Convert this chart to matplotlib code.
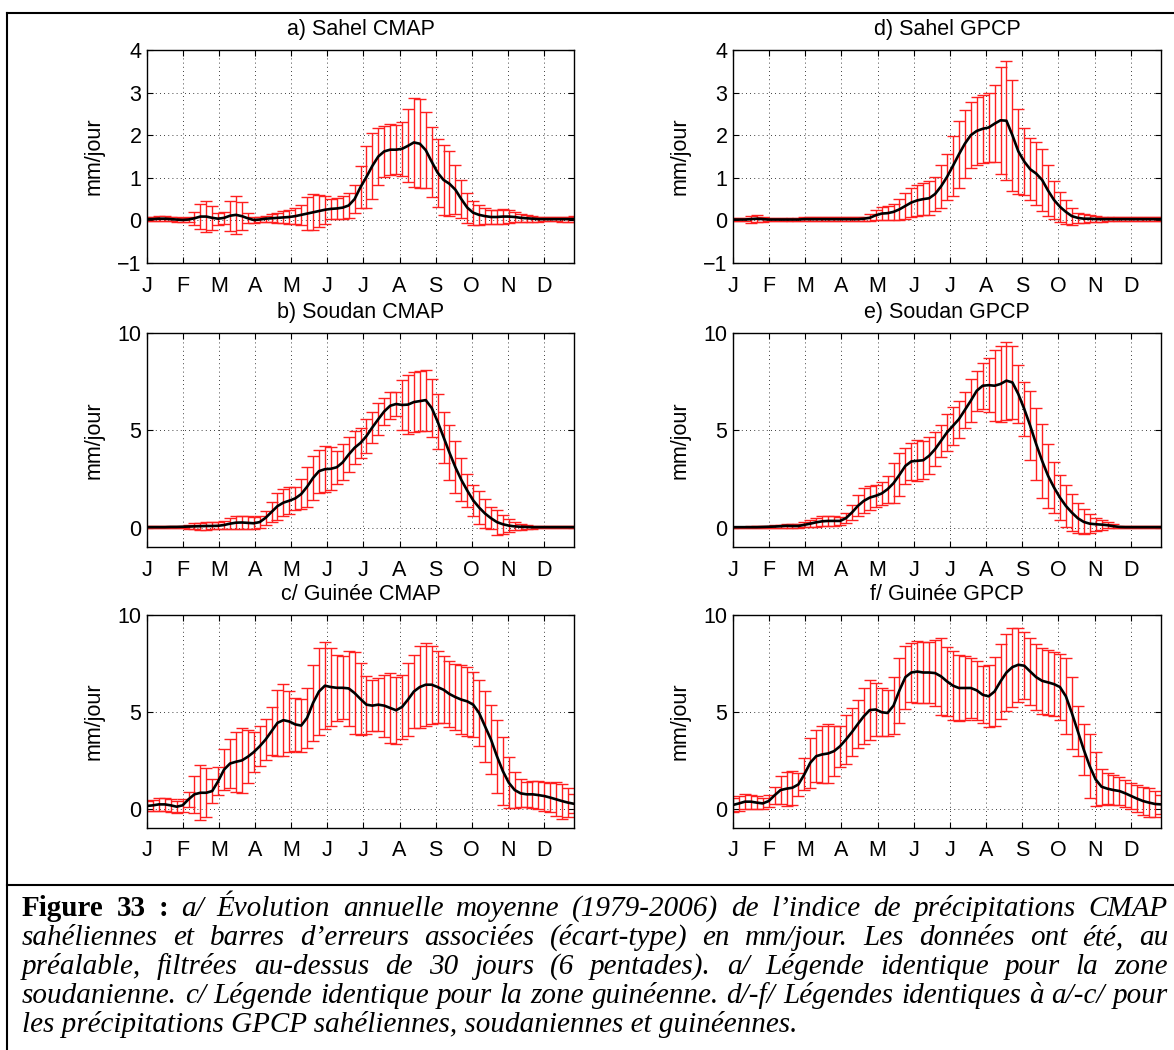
import numpy as np
import matplotlib
matplotlib.use('Agg')
import matplotlib.pyplot as plt
from matplotlib.lines import Line2D

W, H = 1174, 1050
plt.rcParams['font.family'] = 'Liberation Sans'

pentads = np.arange(1, 74)
month_labels = ['J', 'F', 'M', 'A', 'M', 'J', 'J', 'A', 'S', 'O', 'N', 'D']
month_ticks = 1 + np.arange(12) * 73 / 12

titles = ['a) Sahel CMAP', 'b) Soudan CMAP', 'c/ Guinée CMAP',
          'd) Sahel GPCP', 'e) Soudan GPCP', 'f/ Guinée GPCP']

# Sahel CMAP
mean_a = [0.03, 0.03, 0.04, 0.04, 0.03, 0.02, 0.01, 0.02, 0.05, 0.09,
          0.09, 0.06, 0.04, 0.06, 0.11, 0.13, 0.10, 0.05, 0.01, 0.02,
          0.04, 0.05, 0.06, 0.07, 0.08, 0.10, 0.13, 0.16, 0.19, 0.22,
          0.25, 0.27, 0.28, 0.30, 0.35, 0.50, 0.78, 1.02, 1.28, 1.50,
          1.62, 1.66, 1.66, 1.68, 1.75, 1.83, 1.80, 1.65, 1.38, 1.12,
          0.95, 0.86, 0.72, 0.50, 0.30, 0.18, 0.13, 0.10, 0.08, 0.08,
          0.09, 0.09, 0.08, 0.06, 0.05, 0.04, 0.03, 0.03, 0.03, 0.03,
          0.03, 0.03, 0.03]
sd_a = [0.05, 0.05, 0.06, 0.06, 0.05, 0.05, 0.04, 0.05, 0.15, 0.30,
        0.36, 0.28, 0.14, 0.14, 0.35, 0.45, 0.33, 0.12, 0.07, 0.06,
        0.07, 0.09, 0.12, 0.14, 0.16, 0.18, 0.24, 0.38, 0.42, 0.38,
        0.33, 0.24, 0.25, 0.27, 0.30, 0.32, 0.50, 0.72, 0.77, 0.68,
        0.60, 0.60, 0.58, 0.64, 0.86, 1.04, 1.04, 0.90, 0.82, 0.80,
        0.82, 0.76, 0.57, 0.45, 0.35, 0.28, 0.24, 0.18, 0.16, 0.16,
        0.18, 0.15, 0.12, 0.10, 0.08, 0.07, 0.06, 0.05, 0.05, 0.05,
        0.06, 0.06, 0.07]

# Soudan CMAP
mean_b = [0.02, 0.02, 0.02, 0.02, 0.03, 0.03, 0.04, 0.05, 0.06, 0.07,
          0.08, 0.08, 0.09, 0.13, 0.20, 0.25, 0.26, 0.24, 0.22, 0.28,
          0.50, 0.80, 1.10, 1.28, 1.38, 1.50, 1.72, 2.10, 2.55, 2.90,
          3.00, 3.02, 3.10, 3.35, 3.75, 4.10, 4.35, 4.70, 5.15, 5.57,
          5.97, 6.26, 6.35, 6.30, 6.32, 6.45, 6.50, 6.55, 6.15, 5.45,
          4.65, 3.85, 3.10, 2.45, 1.90, 1.40, 1.03, 0.72, 0.48, 0.28,
          0.17, 0.10, 0.06, 0.04, 0.03, 0.02, 0.02, 0.02, 0.02, 0.02,
          0.02, 0.02, 0.02]
sd_b = [0.05, 0.05, 0.06, 0.06, 0.05, 0.05, 0.06, 0.10, 0.15, 0.18,
        0.20, 0.18, 0.17, 0.20, 0.28, 0.33, 0.35, 0.33, 0.30, 0.30,
        0.35, 0.51, 0.70, 0.69, 0.69, 0.60, 0.75, 1.03, 1.11, 1.11,
        1.17, 1.10, 0.86, 0.93, 0.90, 0.85, 0.79, 0.87, 0.81, 0.81,
        0.70, 0.69, 0.64, 1.29, 1.53, 1.52, 1.54, 1.57, 1.50, 1.39,
        1.31, 1.40, 1.35, 1.10, 0.86, 0.81, 0.86, 0.75, 0.56, 0.64,
        0.50, 0.33, 0.21, 0.15, 0.10, 0.08, 0.06, 0.05, 0.05, 0.05,
        0.05, 0.05, 0.06]

# Guinee CMAP
mean_c = [0.14, 0.17, 0.22, 0.22, 0.17, 0.10, 0.17, 0.48, 0.74, 0.82,
          0.82, 0.91, 1.42, 2.02, 2.33, 2.42, 2.49, 2.68, 2.92, 3.22,
          3.57, 4.00, 4.43, 4.57, 4.50, 4.35, 4.29, 4.69, 5.46, 6.05,
          6.35, 6.28, 6.24, 6.24, 6.21, 5.97, 5.66, 5.37, 5.32, 5.37,
          5.32, 5.20, 5.08, 5.25, 5.63, 6.05, 6.28, 6.40, 6.40, 6.28,
          6.14, 5.92, 5.76, 5.63, 5.54, 5.37, 4.94, 4.25, 3.57, 2.71,
          1.94, 1.34, 0.96, 0.79, 0.74, 0.74, 0.70, 0.65, 0.57, 0.48,
          0.39, 0.31, 0.25]
sd_c = [0.26, 0.30, 0.34, 0.32, 0.32, 0.30, 0.32, 0.39, 0.96, 1.42,
        1.26, 0.60, 0.71, 1.06, 1.26, 1.54, 1.66, 1.37, 1.05, 1.03,
        1.06, 1.23, 1.69, 1.87, 1.59, 1.38, 1.39, 1.56, 1.95, 2.25,
        2.26, 2.00, 1.71, 1.63, 1.93, 2.11, 1.86, 1.50, 1.33, 1.36,
        1.60, 1.82, 1.72, 1.66, 1.90, 1.91, 2.13, 2.14, 2.02, 1.86,
        1.72, 1.71, 1.70, 1.78, 1.78, 1.67, 1.69, 1.85, 1.78, 1.89,
        1.76, 1.33, 0.93, 0.72, 0.63, 0.69, 0.73, 0.75, 0.76, 0.87,
        0.90, 0.75, 0.50]

# Sahel GPCP
mean_d = [0.02, 0.02, 0.02, 0.03, 0.04, 0.03, 0.02, 0.02, 0.02, 0.02,
          0.02, 0.02, 0.03, 0.03, 0.03, 0.03, 0.03, 0.03, 0.03, 0.03,
          0.03, 0.03, 0.04, 0.06, 0.12, 0.16, 0.17, 0.20, 0.26, 0.34,
          0.42, 0.47, 0.50, 0.52, 0.62, 0.80, 1.02, 1.28, 1.55, 1.80,
          2.00, 2.10, 2.15, 2.18, 2.27, 2.35, 2.34, 2.00, 1.62, 1.38,
          1.20, 1.10, 0.95, 0.70, 0.48, 0.32, 0.20, 0.10, 0.06, 0.04,
          0.04, 0.03, 0.03, 0.03, 0.03, 0.03, 0.03, 0.03, 0.03, 0.03,
          0.03, 0.03, 0.03]
sd_d = [0.04, 0.04, 0.04, 0.08, 0.08, 0.06, 0.03, 0.03, 0.03, 0.03,
        0.03, 0.03, 0.04, 0.04, 0.04, 0.04, 0.04, 0.04, 0.04, 0.04,
        0.04, 0.04, 0.05, 0.08, 0.12, 0.16, 0.16, 0.18, 0.25, 0.30,
        0.35, 0.37, 0.37, 0.40, 0.40, 0.50, 0.55, 0.70, 0.78, 0.80,
        0.77, 0.80, 0.80, 0.82, 0.90, 1.25, 1.40, 1.30, 1.00, 0.78,
        0.73, 0.75, 0.72, 0.60, 0.45, 0.35, 0.28, 0.20, 0.12, 0.10,
        0.08, 0.07, 0.06, 0.05, 0.04, 0.04, 0.04, 0.04, 0.05, 0.05,
        0.05, 0.04, 0.04]

# Soudan GPCP
mean_e = [0.02, 0.02, 0.02, 0.02, 0.02, 0.03, 0.04, 0.05, 0.07, 0.09,
          0.08, 0.08, 0.14, 0.20, 0.27, 0.32, 0.34, 0.34, 0.34, 0.48,
          0.77, 1.11, 1.37, 1.54, 1.63, 1.75, 1.97, 2.28, 2.71, 3.17,
          3.40, 3.43, 3.46, 3.69, 4.03, 4.46, 4.89, 5.23, 5.57, 6.04,
          6.52, 7.03, 7.29, 7.32, 7.29, 7.38, 7.55, 7.46, 6.86, 6.09,
          5.23, 4.29, 3.43, 2.66, 2.06, 1.54, 1.11, 0.77, 0.48, 0.29,
          0.20, 0.17, 0.15, 0.12, 0.07, 0.03, 0.02, 0.02, 0.02, 0.02,
          0.02, 0.02, 0.02]
sd_e = [0.03, 0.03, 0.03, 0.04, 0.04, 0.04, 0.05, 0.06, 0.08, 0.10,
        0.10, 0.10, 0.12, 0.18, 0.22, 0.25, 0.25, 0.25, 0.22, 0.27,
        0.39, 0.54, 0.64, 0.62, 0.57, 0.57, 0.69, 1.02, 1.11, 0.92,
        0.94, 1.05, 0.97, 0.94, 0.89, 0.81, 0.93, 0.99, 0.96, 0.94,
        1.11, 1.03, 1.18, 1.40, 1.82, 1.96, 2.00, 1.87, 1.48, 1.37,
        1.78, 1.85, 1.89, 1.66, 1.29, 1.15, 1.07, 0.93, 0.77, 0.64,
        0.49, 0.34, 0.26, 0.16, 0.10, 0.07, 0.05, 0.04, 0.04, 0.04,
        0.04, 0.04, 0.04]

# Guinee GPCP
mean_f = [0.19, 0.27, 0.36, 0.36, 0.31, 0.27, 0.39, 0.69, 0.96, 1.03,
          1.08, 1.25, 1.77, 2.37, 2.71, 2.80, 2.85, 2.97, 3.22, 3.57,
          3.95, 4.37, 4.77, 5.09, 5.12, 4.98, 4.94, 5.32, 6.11, 6.79,
          7.03, 7.08, 7.03, 7.03, 7.00, 6.83, 6.57, 6.35, 6.23, 6.23,
          6.23, 6.11, 5.88, 5.80, 6.05, 6.57, 7.03, 7.31, 7.43, 7.38,
          7.08, 6.79, 6.60, 6.52, 6.43, 6.28, 5.80, 4.94, 4.00, 3.05,
          2.20, 1.51, 1.13, 1.03, 0.96, 0.91, 0.79, 0.65, 0.51, 0.39,
          0.31, 0.24, 0.22]
sd_f = [0.37, 0.37, 0.38, 0.36, 0.35, 0.30, 0.33, 0.45, 0.72, 0.88,
        0.88, 0.60, 0.83, 1.29, 1.34, 1.46, 1.52, 1.30, 1.07, 1.24,
        1.24, 1.26, 1.45, 1.57, 1.39, 1.23, 1.20, 1.47, 1.69, 1.63,
        1.54, 1.60, 1.60, 1.58, 1.72, 1.97, 1.80, 1.78, 1.72, 1.63,
        1.54, 1.54, 1.48, 1.60, 1.80, 1.95, 2.00, 2.04, 1.90, 1.74,
        1.74, 1.69, 1.70, 1.67, 1.65, 1.69, 1.96, 1.84, 1.30, 1.32,
        1.67, 1.39, 0.93, 0.81, 0.77, 0.70, 0.69, 0.69, 0.69, 0.73,
        0.75, 0.69, 0.51]

caption_bold = 'Figure 33 :'
caption_lines = [
    'a/ Évolution annuelle moyenne (1979-2006) de l’indice de précipitations CMAP',
    'sahéliennes et barres d’erreurs associées (écart-type) en mm/jour. Les données ont été, au',
    'préalable, filtrées au-dessus de 30 jours (6 pentades). a/ Légende identique pour la zone',
    'soudanienne. c/ Légende identique pour la zone guinéenne. d/-f/ Légendes identiques à a/-c/ pour',
    'les précipitations GPCP sahéliennes, soudaniennes et guinéennes.',
]

fig = plt.figure(figsize=(W / 100, H / 100), dpi=100)
fig.patch.set_facecolor('white')

# pixel boxes (left, top, right, bottom)
col_x = [(147, 574), (733, 1161)]
row_y = [(50, 263), (333, 547), (615, 828)]
panels = [
    (titles[0], mean_a, sd_a, 0, 0, (-1, 4), [-1, 0, 1, 2, 3, 4]),
    (titles[1], mean_b, sd_b, 0, 1, (-1, 10), [0, 5, 10]),
    (titles[2], mean_c, sd_c, 0, 2, (-1, 10), [0, 5, 10]),
    (titles[3], mean_d, sd_d, 1, 0, (-1, 4), [-1, 0, 1, 2, 3, 4]),
    (titles[4], mean_e, sd_e, 1, 1, (-1, 10), [0, 5, 10]),
    (titles[5], mean_f, sd_f, 1, 2, (-1, 10), [0, 5, 10]),
]

fs = 15.5
for title, mean, sd, c, r, ylim, yticks in panels:
    l, rt = col_x[c]
    t, b = row_y[r]
    ax = fig.add_axes([l / W, 1 - b / H, (rt - l) / W, (b - t) / H])
    ax.errorbar(pentads, mean, yerr=sd, fmt='none', ecolor='#ff1f1f',
                elinewidth=1.0, capsize=4, capthick=1.0, zorder=2)
    ax.plot(pentads, mean, color='black', lw=1.9, zorder=3)
    ax.set_xlim(1, 73)
    ax.set_ylim(*ylim)
    ax.set_yticks(yticks)
    ax.set_yticklabels([str(v).replace('-', '\u2212') for v in yticks])
    ax.set_xticks(month_ticks)
    ax.set_xticklabels(month_labels)
    ax.grid(True, color='black', linestyle=(0, (1, 4)), linewidth=0.6)
    ax.tick_params(direction='in', top=True, right=True, length=4,
                   width=0.8, labelsize=fs)
    ax.tick_params(axis='x', pad=9)
    ax.tick_params(axis='y', pad=4)
    for s in ax.spines.values():
        s.set_linewidth(1.0)
    ax.set_title(title, fontsize=fs, pad=11)
    ax.set_ylabel('mm/jour', fontsize=fs)
    ax.yaxis.set_label_coords(-42 / (rt - l), 0.5)

# frame lines
lw_frame = 1.5
fig.add_artist(Line2D([7 / W, 1], [1 - 13 / H, 1 - 13 / H], color='black',
                      lw=lw_frame, transform=fig.transFigure))
fig.add_artist(Line2D([7 / W, 7 / W], [1 - 13 / H, 0], color='black',
                      lw=lw_frame, transform=fig.transFigure))
fig.add_artist(Line2D([7 / W, 1], [1 - 885 / H, 1 - 885 / H], color='black',
                      lw=lw_frame, transform=fig.transFigure))

# justified caption
cap_left, cap_right = 22, 1168
cap_fs = 21
baselines = [916, 945, 974, 1003, 1032]
renderer = fig.canvas.get_renderer()

for i, line in enumerate(caption_lines):
    y = 1 - baselines[i] / H
    words = [(w, 'italic', 'normal') for w in line.split()]
    if i == 0:
        words = [(w, 'normal', 'bold') for w in caption_bold.split()] + words
    if i == len(caption_lines) - 1:
        fig.text(cap_left / W, y, line, fontsize=cap_fs, family='Liberation Serif',
                 style='italic', va='baseline', ha='left')
        continue
    texts = []
    total = 0
    for w, st, wt in words:
        tx = fig.text(0, y, w, fontsize=cap_fs, family='Liberation Serif',
                      style=st, weight=wt, va='baseline', ha='left')
        width = tx.get_window_extent(renderer).width
        texts.append((tx, width))
        total += width
    gap = (cap_right - cap_left - total) / (len(texts) - 1)
    x = cap_left
    for tx, width in texts:
        tx.set_x(x / W)
        x += width + gap

fig.savefig('out.png', dpi=100)
